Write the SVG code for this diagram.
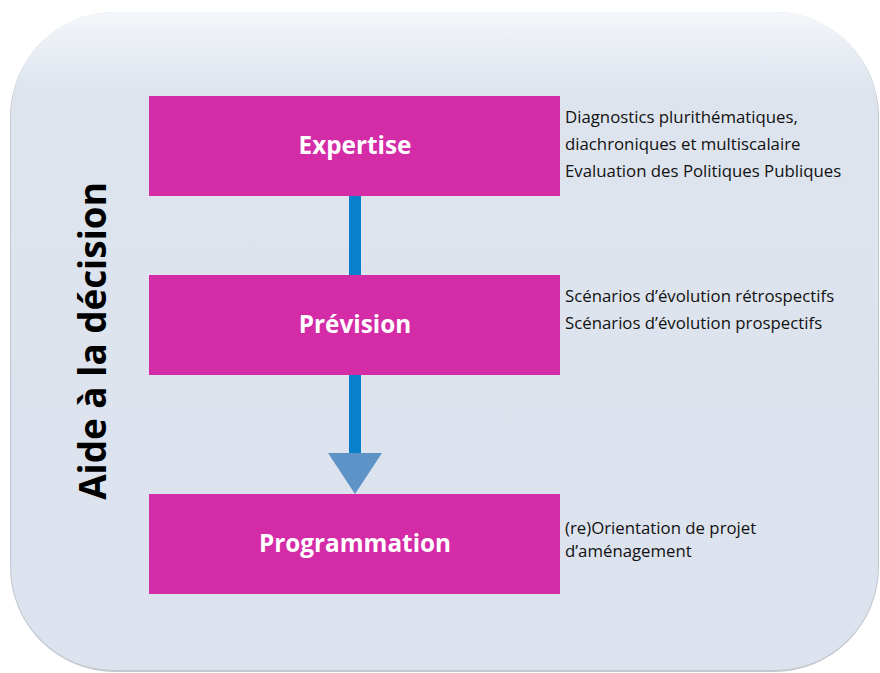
<svg xmlns="http://www.w3.org/2000/svg" width="880" height="673" viewBox="0 0 880 673">
<defs>
<style>
.box{fill:#d42ba7}
.lbl{font-family:"Open Sans","Liberation Sans",sans-serif;font-weight:bold;font-size:24.3px;fill:#ffffff;text-anchor:middle}
.note{font-family:"Open Sans","Liberation Sans",sans-serif;font-size:16.8px;fill:#111111}
.conn{stroke:#0a80cc;stroke-width:12;fill:none}
</style>
<linearGradient id="edge" x1="0" y1="0" x2="0" y2="1">
<stop offset="0" stop-color="#f4f7fa"/>
<stop offset="0.12" stop-color="#dde4ee"/>
<stop offset="1" stop-color="#dde3ee"/>
</linearGradient>
</defs>
<rect width="880" height="673" fill="#ffffff"/>
<rect x="10" y="12" width="869" height="660" rx="105" ry="105" fill="#c2c8d0"/>
<rect x="11" y="12" width="867" height="658" rx="103" ry="103" fill="url(#edge)"/>
<text transform="translate(106,341) rotate(-90)" font-family="'Open Sans','Liberation Sans',sans-serif" font-weight="bold" font-size="36.8" fill="#000000" text-anchor="middle">Aide à la décision</text>
<g id="connectors">
<line class="conn" x1="355" y1="196" x2="355" y2="275"/>
<line class="conn" x1="355" y1="375" x2="355" y2="455"/>
<polygon points="328,453 382,453 355,494" fill="#5e93c8"/>
</g>
<g id="expertise">
<rect class="box" x="149" y="96" width="411" height="100"/>
<text class="lbl" x="355" y="154">Expertise</text>
<text class="note" x="565" y="123">Diagnostics plurithématiques,</text>
<text class="note" x="565" y="150">diachroniques et multiscalaire</text>
<text class="note" x="565" y="177">Evaluation des Politiques Publiques</text>
</g>
<g id="prevision">
<rect class="box" x="149" y="275" width="411" height="100"/>
<text class="lbl" x="355" y="333">Prévision</text>
<text class="note" x="565" y="302">Scénarios d’évolution rétrospectifs</text>
<text class="note" x="565" y="329">Scénarios d’évolution prospectifs</text>
</g>
<g id="programmation">
<rect class="box" x="149" y="494" width="411" height="100"/>
<text class="lbl" x="355" y="552">Programmation</text>
<text class="note" x="565" y="534">(re)Orientation de projet</text>
<text class="note" x="565" y="557">d’aménagement</text>
</g>
</svg>
